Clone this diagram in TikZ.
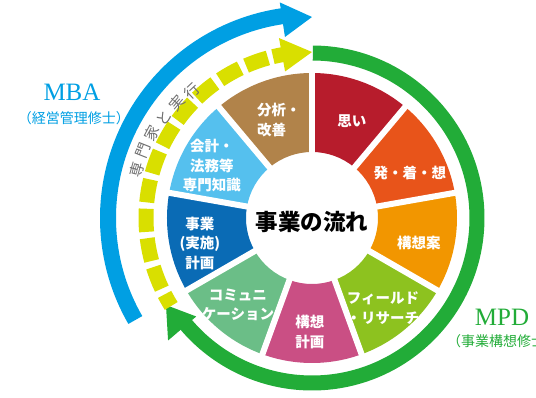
\documentclass[tikz,border=0pt]{standalone}
\usepackage{fontspec}
\setmainfont{Liberation Serif}
\newfontfamily\cjk{Noto Sans CJK JP}
\definecolor{cOmoi}{HTML}{B71C2C}
\definecolor{cHatsu}{HTML}{E8541A}
\definecolor{cKoso}{HTML}{F29600}
\definecolor{cField}{HTML}{8DC21F}
\definecolor{cKeikaku}{HTML}{CA4F84}
\definecolor{cComm}{HTML}{6BBE87}
\definecolor{cJigyo}{HTML}{0A6BB5}
\definecolor{cKaikei}{HTML}{55C0EE}
\definecolor{cBunseki}{HTML}{B1834A}
\definecolor{cBlue}{HTML}{009FE3}
\definecolor{cGreen}{HTML}{22AC38}
\definecolor{cYel}{HTML}{D9DF00}
\definecolor{cGrayText}{HTML}{6E6E6E}
\newcommand\wheelseg[3]{\fill[#3] (#1:66) arc[start angle=#1,end angle=#2,radius=66] -- (#2:145) arc[start angle=#2,end angle=#1,radius=145] -- cycle;}
\tikzset{
  segtext/.style={text=white, font=\cjk\bfseries\fontsize{14.5}{19.5}\selectfont, align=center, inner sep=0pt},
  arctext/.style={text=cGrayText, font=\cjk\fontsize{15}{15}\selectfont, inner sep=0pt},
  ringarc/.style={line width=#1, line cap=butt}
}
\begin{document}
\begin{tikzpicture}[x=1pt,y=1pt]
\useasboundingbox (-312,-180) rectangle (224,218);
% wheel
\wheelseg{50}{90}{cOmoi}
\wheelseg{10}{50}{cHatsu}
\wheelseg{-30}{10}{cKoso}
\wheelseg{-70}{-30}{cField}
\wheelseg{-110}{-70}{cKeikaku}
\wheelseg{-150}{-110}{cComm}
\wheelseg{-190}{-150}{cJigyo}
\wheelseg{130}{170}{cKaikei}
\wheelseg{90}{130}{cBunseki}
\foreach \a in {90,50,10,-30,-70,-110,-150,170,130}
  \draw[white, line width=6] (\a:60) -- (\a:150);
% blue ring
\draw[cBlue, ringarc=16] (210:204) arc[start angle=210, end angle=98, radius=204];
\fill[cBlue] (90:201) -- (98.5:183) -- (98.5:218) -- cycle;
% green ring
\draw[cGreen, ringarc=15] (89.7:165) arc[start angle=89.7, end angle=-140, radius=165];
\fill[cGreen] (210.8:170) -- (220.4:152) -- (220.4:189) -- cycle;
% yellow dashed ring
\foreach \u in {105.4,115.6,125.8,136,146.2,156.4,166.6,176.8,187,197.2}
  \draw[cYel, ringarc=15] (\u:166) arc[start angle=\u, end angle=\u+8, radius=166];
\draw[cYel, ringarc=15] (207.4:166) arc[start angle=207.4, end angle=212, radius=166];
\draw[cYel, ringarc=15] (100:166) arc[start angle=100, end angle=103.6, radius=166];
\fill[cYel] (90:166) -- (100.4:149) -- (100.4:183) -- cycle;
% text along arc
\foreach \ch/\a/\r [count=\i] in {専/164.5/182, 門/158.3/182, 家/152.1/181, と/145.9/179, 実/139.7/177, 行/133.5/175}
  \node[arctext, rotate=\a-90] (arc\i) at (\a:\r) {\ch};
% segment labels
\node[segtext] (omoi) at (40,97) {思い};
\node[segtext] (hatsu) at (98,45) {発・着・想};
\node[segtext] (koso) at (107,-25) {構想案};
\node[segtext] (field) at (71,-90) {フィールド\\・リサーチ};
\node[segtext] (keikaku) at (-2,-114) {構想\\計画};
\node[segtext] (comm) at (-74,-87) {コミュニ\\ケーション};
\node[segtext] (jigyo) at (-112,-25) {事業\\(実施)\\計画};
\node[segtext] (kaikei) at (-100,52) {会計・\\法務等\\専門知識};
\node[segtext, align=left] (bunseki) at (-33,98) {分析・\\改善};
% centre
\node[font=\cjk\bfseries\fontsize{22.5}{23}\selectfont, inner sep=0pt] (centre) at (0,-4) {事業の流れ};
% side labels
\node[text=cBlue, font=\fontsize{25}{25}\selectfont, inner sep=0pt] (mba) at (-240,126) {MBA};
\node[text=cBlue, font=\cjk\fontsize{14}{14}\selectfont, inner sep=0pt] (mbasub) at (-238,100) {（経営管理修士）};
\node[text=cGreen, font=\fontsize{25}{25}\selectfont, inner sep=0pt] (mpd) at (190,-99) {MPD};
\node[text=cGreen, font=\cjk\fontsize{14}{14}\selectfont, inner sep=0pt, anchor=west] (mpdsub) at (135,-123) {（事業構想修士）};
\end{tikzpicture}
\end{document}
